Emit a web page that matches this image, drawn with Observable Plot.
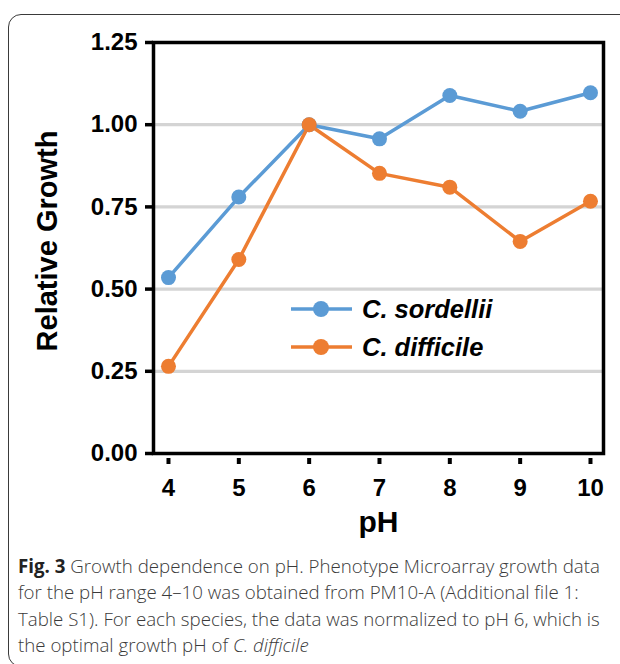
<!DOCTYPE html>
<html><head><meta charset="utf-8">
<script src="https://cdn.jsdelivr.net/npm/d3@7"></script>
<script src="https://cdn.jsdelivr.net/npm/@observablehq/plot@0.6"></script>
<style>
html,body{margin:0;padding:0;background:#fff}
body{width:620px;height:664px;overflow:hidden;position:relative;font-family:"Liberation Sans",Arial,sans-serif}
#box{position:absolute;left:8px;top:14px;width:660px;height:653px;border:1.5px solid #3a3a3a;border-radius:13px;box-sizing:border-box}
#chart{position:absolute;left:0;top:0}
#legend{position:absolute;left:0;top:0}
#caption{position:absolute;left:18px;top:553px;font-family:"Open Sans",sans-serif;font-weight:300;font-size:18.7px;line-height:26.3px;color:#3a3a3a;white-space:nowrap}
#caption b{color:#222;font-weight:700}
</style>
</head><body>
<div id="box"></div>
<div id="chart"></div>
<div id="legend"></div>
<div id="caption"></div>
<script>
const pH = [4, 5, 6, 7, 8, 9, 10];
const sordellii = [0.535, 0.78, 1.00, 0.957, 1.089, 1.041, 1.097];
const difficile = [0.265, 0.59, 1.00, 0.852, 0.81, 0.645, 0.767];
const species = ["C. sordellii", "C. difficile"];
const colors = ["#5B9BD5", "#ED7D31"];
const yTicks = [0, 0.25, 0.5, 0.75, 1.0, 1.25];
const gridValues = [0.25, 0.5, 0.75, 1.0];
const xTicks = [4, 5, 6, 7, 8, 9, 10];
const yLabel = "Relative Growth";
const xLabel = "pH";

const rows = [];
[sordellii, difficile].forEach((vals, i) => {
  vals.forEach((v, j) => rows.push({species: species[i], pH: pH[j], value: v}));
});

const chart = Plot.plot({
  width: 620,
  height: 540,
  marginTop: 42,
  marginBottom: 87,
  marginLeft: 153,
  marginRight: 17,
  style: {fontFamily: "'Liberation Sans', Arial, sans-serif", color: "#000", background: "transparent"},
  x: {domain: [3.787, 10.185]},
  y: {domain: [0, 1.25]},
  color: {domain: species, range: colors},
  marks: [
    Plot.gridY(gridValues, {stroke: "#d4d4d4", strokeWidth: 3.2, strokeOpacity: 1}),
    Plot.line(rows, {x: "pH", y: "value", z: "species", stroke: "species", strokeWidth: 3.5}),
    Plot.dot(rows, {x: "pH", y: "value", fill: "species", r: 7.5}),
    Plot.frame({stroke: "#000", strokeWidth: 3.5}),
    Plot.axisY({ticks: yTicks, tickFormat: d3.format(".2f"), tickSize: 8, tickPadding: 8, strokeWidth: 3.5, fontSize: 24, fontWeight: "bold", label: null}),
    Plot.axisX({ticks: xTicks, tickFormat: d3.format("d"), tickSize: 6, tickPadding: 14, dy: 5, strokeWidth: 4, fontSize: 24, fontWeight: "bold", label: null}),
    Plot.text([yLabel], {frameAnchor: "left", textAnchor: "middle", dx: -106, dy: -7, rotate: -90, fontSize: 29, fontWeight: "bold", text: d => d}),
    Plot.text([xLabel], {frameAnchor: "bottom", dy: 78, fontSize: 30, fontWeight: "bold", text: d => d})
  ]
});
document.getElementById("chart").appendChild(chart);

// legend
const ns = "http://www.w3.org/2000/svg";
const lg = document.createElementNS(ns, "svg");
lg.setAttribute("width", 620); lg.setAttribute("height", 664);
const legendY = [309, 347];
species.forEach((s, i) => {
  const y = legendY[i];
  const line = document.createElementNS(ns, "line");
  line.setAttribute("x1", 291); line.setAttribute("x2", 352);
  line.setAttribute("y1", y); line.setAttribute("y2", y);
  line.setAttribute("stroke", colors[i]); line.setAttribute("stroke-width", 3.5);
  lg.appendChild(line);
  const c = document.createElementNS(ns, "circle");
  c.setAttribute("cx", 321); c.setAttribute("cy", y); c.setAttribute("r", 8);
  c.setAttribute("fill", colors[i]);
  lg.appendChild(c);
  const t = document.createElementNS(ns, "text");
  t.setAttribute("x", 362); t.setAttribute("y", y);
  t.setAttribute("dominant-baseline", "central");
  t.setAttribute("font-size", 25.5); t.setAttribute("font-weight", "bold"); t.setAttribute("font-style", "italic");
  t.setAttribute("font-family", "'Liberation Sans', Arial, sans-serif");
  t.textContent = s;
  lg.appendChild(t);
});
document.getElementById("legend").appendChild(lg);

document.getElementById("caption").innerHTML =
  "<b>Fig. 3</b> Growth dependence on pH. Phenotype Microarray growth data<br>" +
  "for the pH range 4–10 was obtained from PM10-A (Additional file 1:<br>" +
  "Table S1). For each species, the data was normalized to pH 6, which is<br>" +
  "the optimal growth pH of <i>C. difficile</i>";
</script>
</body></html>
